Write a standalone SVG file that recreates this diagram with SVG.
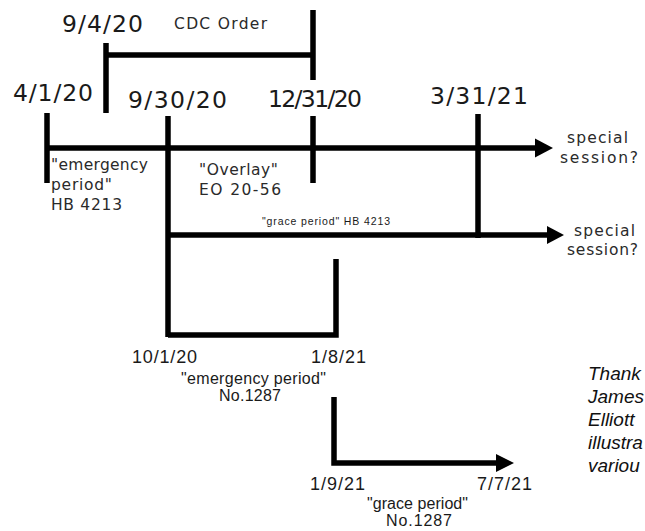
<svg xmlns="http://www.w3.org/2000/svg" width="645" height="531" viewBox="0 0 645 531">
<defs>
<style>
.ln{stroke:#000;stroke-width:5.5;fill:none;stroke-linecap:butt;stroke-linejoin:miter}
.ah{fill:#000}
.d{font-family:"DejaVu Sans",Verdana,sans-serif;font-size:23.5px;fill:#1a1a1a}
.m{font-family:"DejaVu Sans",Verdana,sans-serif;font-size:15.5px;fill:#2a2a2a}
.a{font-family:"Liberation Sans",Arial,sans-serif;fill:#1a1a1a}
.it{font-family:"Liberation Sans",Arial,sans-serif;font-style:italic;font-size:19px;fill:#111}
</style>
</defs>
<rect width="645" height="531" fill="#fff"/>
<g id="connectors">
<path class="ln" d="M106,43V113M106,55H313M313,10V80"/>
<path class="ln" d="M47,113V183M47,148H537"/>
<polygon class="ah" points="535,138.5 553,148 535,157.5"/>
<path class="ln" d="M168,116V337M313,116V183M478,114V238"/>
<path class="ln" d="M168,235H548"/>
<polygon class="ah" points="547,226 564,235 547,244"/>
<path class="ln" d="M168,335H336V259"/>
<path class="ln" d="M334,397V463H497"/>
<polygon class="ah" points="496,454 514,463 496,472"/>
</g>
<g id="cdc-order">
<text class="d" x="62" y="32" textLength="81">9/4/20</text>
<text class="m" x="174" y="29" font-size="16" textLength="93">CDC Order</text>
</g>
<g id="d-4-1-20"><text class="d" x="13" y="101" textLength="80">4/1/20</text></g>
<g id="d-9-30-20"><text class="d" x="128" y="108" textLength="99">9/30/20</text></g>
<g id="d-12-31-20"><text class="d" x="268" y="107" textLength="94">12/31/20</text></g>
<g id="d-3-31-21"><text class="d" x="430" y="104" textLength="98">3/31/21</text></g>
<g id="emergency-hb">
<text class="m" x="51" y="170" textLength="97">"emergency</text>
<text class="m" x="51" y="190" textLength="61">period"</text>
<text class="m" x="51" y="210" textLength="71">HB 4213</text>
</g>
<g id="overlay">
<text class="m" x="199" y="175" textLength="79">"Overlay"</text>
<text class="m" x="199" y="195" textLength="82">EO 20-56</text>
</g>
<g id="special-1">
<text class="m" x="567" y="143" font-size="16" textLength="61">special</text>
<text class="m" x="560" y="163" font-size="16" textLength="78">session?</text>
</g>
<g id="grace-hb"><text class="a" x="262" y="225" font-size="10.5" textLength="128">"grace period" HB 4213</text></g>
<g id="special-2">
<text class="m" x="574" y="236" font-size="16" textLength="61">special</text>
<text class="m" x="567" y="255" font-size="16" textLength="71">session?</text>
</g>
<g id="emergency-1287">
<text class="a" x="132" y="363" font-size="18" textLength="65">10/1/20</text>
<text class="a" x="311" y="363" font-size="18" textLength="55">1/8/21</text>
<text class="a" x="181" y="384" font-size="16" textLength="145">"emergency period"</text>
<text class="a" x="219" y="401" font-size="16" textLength="62">No.1287</text>
</g>
<g id="grace-1287">
<text class="a" x="310" y="490" font-size="18" textLength="55">1/9/21</text>
<text class="a" x="477" y="490" font-size="18" textLength="55">7/7/21</text>
<text class="a" x="367" y="509" font-size="16" textLength="101">"grace period"</text>
<text class="a" x="386" y="526" font-size="16" textLength="66">No.1287</text>
</g>
<g id="thanks">
<text class="it" x="588" y="380">Thank</text>
<text class="it" x="588" y="403">James</text>
<text class="it" x="588" y="426">Elliott</text>
<text class="it" x="588" y="449">illustra</text>
<text class="it" x="588" y="472">variou</text>
</g>
</svg>
